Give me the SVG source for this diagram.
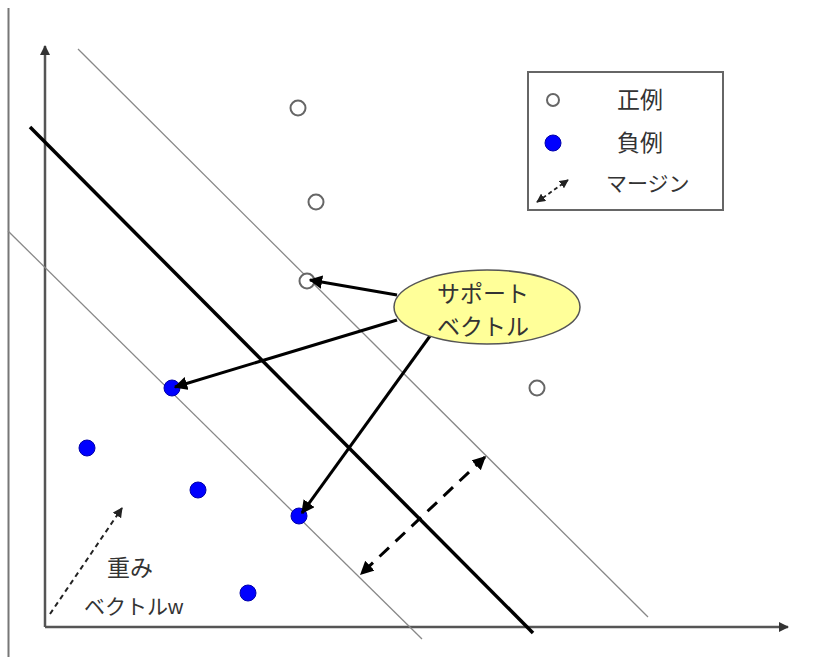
<svg xmlns="http://www.w3.org/2000/svg" width="813" height="657" viewBox="0 0 813 657">
<style>
.axis{stroke:#555;stroke-width:2.5;fill:none}
.margin{stroke:#888;stroke-width:1.3;fill:none}
.hyper{stroke:#000;stroke-width:3.5;fill:none}
.pointer{stroke:#000;stroke-width:3;fill:none}
.pos{fill:#fff;stroke:#666;stroke-width:2}
.neg{fill:#0000ff;stroke:#0000aa;stroke-width:1}
.lbl{font-family:"Liberation Sans","Noto Sans CJK JP",sans-serif;font-size:21px;fill:#333}
.big{font-size:23px}
</style>
<defs>
<marker id="ah" viewBox="0 0 10 10" refX="9" refY="5" markerWidth="4.5" markerHeight="4.5" orient="auto-start-reverse" markerUnits="strokeWidth">
<path d="M0,0 L10,5 L0,10 z" fill="#000"/>
</marker>
<marker id="ahs" viewBox="0 0 10 10" refX="9" refY="5" markerWidth="5" markerHeight="5" orient="auto-start-reverse" markerUnits="strokeWidth">
<path d="M0,0 L10,5 L0,10 z" fill="#222"/>
</marker>
<marker id="aha" viewBox="0 0 10 10" refX="9" refY="5" markerWidth="4" markerHeight="4" orient="auto" markerUnits="strokeWidth">
<path d="M0,0 L10,5 L0,10 z" fill="#333"/>
</marker>
</defs>
<rect width="813" height="657" fill="#fff"/>
<g id="frame">
<line x1="8.5" y1="8" x2="8.5" y2="657" stroke="#777" stroke-width="2"/>
</g>
<g id="axes">
<line class="axis" x1="45" y1="627" x2="45" y2="46" marker-end="url(#aha)"/>
<line class="axis" x1="45" y1="627" x2="788" y2="627" marker-end="url(#aha)"/>
</g>
<g id="lines">
<line class="margin" x1="78" y1="49" x2="648" y2="617"/>
<line class="margin" x1="8" y1="231" x2="422" y2="639"/>
<line class="hyper" x1="30" y1="127" x2="533" y2="633"/>
</g>
<g id="points">
<circle class="pos" cx="298" cy="108" r="7.5"/>
<circle class="pos" cx="316" cy="202" r="7.5"/>
<circle class="pos" cx="307" cy="281" r="7.5"/>
<circle class="pos" cx="537" cy="388" r="7.5"/>
<circle class="neg" cx="172" cy="388" r="8"/>
<circle class="neg" cx="87" cy="448" r="8"/>
<circle class="neg" cx="198" cy="490" r="8"/>
<circle class="neg" cx="299" cy="516" r="8"/>
<circle class="neg" cx="248" cy="593" r="8"/>
</g>
<g id="connectors">
<line class="pointer" x1="397" y1="295" x2="310" y2="280" marker-end="url(#ah)"/>
<line class="pointer" x1="397" y1="320" x2="175" y2="387" marker-end="url(#ah)"/>
<line class="pointer" x1="430" y1="336" x2="302" y2="513" marker-end="url(#ah)"/>
<line x1="485" y1="457" x2="361" y2="574" stroke="#000" stroke-width="3" stroke-dasharray="13,9" marker-start="url(#ah)" marker-end="url(#ah)"/>
<line x1="50" y1="614" x2="122" y2="508" stroke="#222" stroke-width="2" stroke-dasharray="5,4" marker-end="url(#ahs)"/>
</g>
<g id="support-vector-label">
<ellipse cx="487" cy="307" rx="93" ry="37" fill="#ffff99" stroke="#555" stroke-width="1.5"/>
<text class="lbl big" x="483" y="302" text-anchor="middle">サポート</text>
<text class="lbl big" x="483" y="335" text-anchor="middle">ベクトル</text>
</g>
<g id="weight-label">
<text class="lbl big" x="107" y="576">重み</text>
<text class="lbl" x="84" y="614">ベクトルw</text>
</g>
<g id="legend">
<rect x="528" y="72" width="195" height="138" fill="#fff" stroke="#666" stroke-width="2"/>
<circle class="pos" cx="553" cy="100" r="6"/>
<text class="lbl big" x="617" y="108">正例</text>
<circle class="neg" cx="553" cy="143" r="8"/>
<text class="lbl big" x="617" y="151">負例</text>
<line x1="537" y1="202" x2="568" y2="180" stroke="#222" stroke-width="1.8" stroke-dasharray="4,3" marker-start="url(#ahs)" marker-end="url(#ahs)"/>
<text class="lbl" x="606" y="191">マージン</text>
</g>
</svg>
